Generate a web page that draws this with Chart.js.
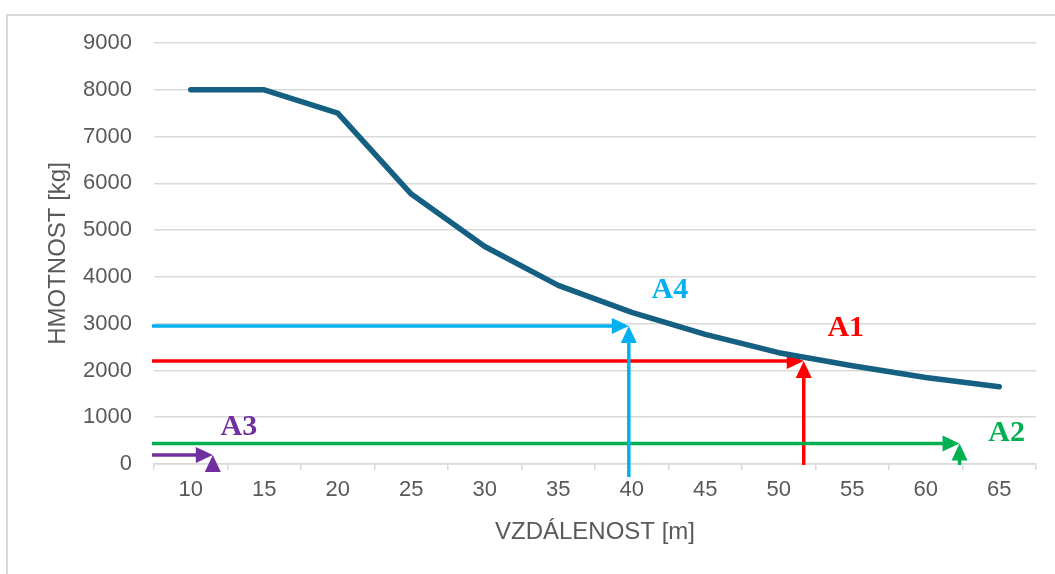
<!DOCTYPE html>
<html>
<head>
<meta charset="utf-8">
<script src="https://cdn.jsdelivr.net/npm/chart.js@4.4.1/dist/chart.umd.min.js"></script>
<style>
html,body{margin:0;padding:0;background:#ffffff;}
#wrap{position:relative;width:1055px;height:574px;}
</style>
</head>
<body>
<div id="wrap"><canvas id="c" width="1055" height="574"></canvas></div>
<script>
// ---- data ----
const distances = [10, 15, 20, 25, 30, 35, 40, 45, 50, 55, 60, 65];
const masses    = [8000, 8000, 7500, 5770, 4650, 3820, 3240, 2770, 2380, 2100, 1850, 1650];
const xTicks = [10, 15, 20, 25, 30, 35, 40, 45, 50, 55, 60, 65];
const yTicks = [0, 1000, 2000, 3000, 4000, 5000, 6000, 7000, 8000, 9000];

// reading arrows: name, distance at tip, mass at tip, mass where vertical arrow starts
const arrowNames   = ['A1', 'A2', 'A3', 'A4'];
const arrowDist    = [51.7, 62.3, 11.5, 39.8];
const arrowMass    = [2200, 440, 190, 2950];
const arrowFromMass= [-20, -20, -170, -280];

// ---- styles ----
const arrowColors = ['#FF0000', '#00B050', '#7030A0', '#00B0F0'];
const labelOffsets = [[42, -25], [47, -2], [26, -20], [41, -28]];
const textColor = '#595959';
const gridColor = '#D9D9D9';
const tickFont = {family: '"Liberation Sans", Arial, sans-serif', size: 22};
const titleFont = {family: '"Liberation Sans", Arial, sans-serif', size: 24};

const points = distances.map((d, i) => ({x: d, y: masses[i]}));

function drawArrow(ctx, x1, y1, x2, y2, color) {
  const headLen = 17, headHalf = 8;
  const ang = Math.atan2(y2 - y1, x2 - x1);
  const bx = x2 - headLen * Math.cos(ang), by = y2 - headLen * Math.sin(ang);
  ctx.save();
  ctx.strokeStyle = color;
  ctx.fillStyle = color;
  ctx.lineWidth = 3.5;
  ctx.lineCap = 'butt';
  ctx.beginPath();
  ctx.moveTo(x1, y1);
  ctx.lineTo(bx + 1 * Math.cos(ang), by + 1 * Math.sin(ang));
  ctx.stroke();
  ctx.beginPath();
  ctx.moveTo(x2, y2);
  ctx.lineTo(bx - headHalf * Math.sin(ang), by + headHalf * Math.cos(ang));
  ctx.lineTo(bx + headHalf * Math.sin(ang), by - headHalf * Math.cos(ang));
  ctx.closePath();
  ctx.fill();
  ctx.restore();
}

const borderPlugin = {
  id: 'outerBorder',
  beforeDraw(chart) {
    const ctx = chart.ctx;
    ctx.save();
    ctx.strokeStyle = gridColor;
    ctx.lineWidth = 2;
    ctx.strokeRect(7, 15, 1200, 800);
    ctx.restore();
  }
};

const arrowPlugin = {
  id: 'readingArrows',
  beforeDatasetsDraw(chart) {
    const ctx = chart.ctx;
    const xs = chart.scales.x, ys = chart.scales.y;
    const left = xs.getPixelForValue(xs.min) - 2;
    arrowNames.forEach((name, i) => {
      const px = xs.getPixelForValue(arrowDist[i]);
      const py = ys.getPixelForValue(arrowMass[i]);
      const pb = ys.getPixelForValue(arrowFromMass[i]);
      drawArrow(ctx, left, py, px, py, arrowColors[i]);
      drawArrow(ctx, px, pb, px, py, arrowColors[i]);
    });
  },
  afterDatasetsDraw(chart) {
    const ctx = chart.ctx;
    const xs = chart.scales.x, ys = chart.scales.y;
    ctx.save();
    ctx.font = 'bold 30px "Liberation Serif", "Times New Roman", serif';
    ctx.textAlign = 'center';
    ctx.textBaseline = 'alphabetic';
    arrowNames.forEach((name, i) => {
      const px = xs.getPixelForValue(arrowDist[i]);
      const py = ys.getPixelForValue(arrowMass[i]);
      ctx.fillStyle = arrowColors[i];
      ctx.fillText(name, px + labelOffsets[i][0], py + labelOffsets[i][1]);
    });
    ctx.restore();
  }
};

new Chart(document.getElementById('c'), {
  type: 'line',
  data: {
    datasets: [{
      data: points,
      borderColor: '#156082',
      borderWidth: 5.5,
      borderCapStyle: 'round',
      borderJoinStyle: 'round',
      pointRadius: 0,
      tension: 0,
      fill: false
    }]
  },
  options: {
    responsive: false,
    animation: false,
    devicePixelRatio: 1,
    layout: {padding: {left: 0, right: 19, top: 43, bottom: 0}},
    plugins: {legend: {display: false}, tooltip: {enabled: false}},
    scales: {
      x: {
        type: 'linear',
        min: xTicks[0] - 2.5,
        max: xTicks[xTicks.length - 1] + 2.5,
        afterBuildTicks(s) {
          const t = [{value: xTicks[0] - 2.5}];
          xTicks.forEach(v => { t.push({value: v}); t.push({value: v + 2.5}); });
          s.ticks = t;
        },
        afterFit(s) { s.height = 110; },
        ticks: {
          autoSkip: false, maxRotation: 0, minRotation: 0,
          callback: v => xTicks.includes(v) ? String(v) : '',
          font: tickFont, color: textColor, padding: 7
        },
        grid: {
          drawOnChartArea: false, drawTicks: true, tickLength: 6,
          tickColor: c => (c.tick && xTicks.includes(c.tick.value)) ? 'rgba(0,0,0,0)' : gridColor,
          lineWidth: 1.5
        },
        border: {display: true, color: gridColor, width: 1.5},
        title: {display: true, text: 'VZDÁLENOST [m]', font: titleFont, color: textColor, padding: {top: 0, bottom: 27}}
      },
      y: {
        min: yTicks[0],
        max: yTicks[yTicks.length - 1],
        afterBuildTicks(s) { s.ticks = yTicks.map(v => ({value: v})); },
        afterFit(s) { s.width = 154; },
        ticks: {font: tickFont, color: textColor, padding: 22, callback: v => String(v)},
        grid: {color: gridColor, lineWidth: 1.5, drawTicks: false},
        border: {display: false},
        title: {display: true, text: 'HMOTNOST [kg]', font: titleFont, color: textColor, padding: {top: 44, bottom: 0}}
      }
    }
  },
  plugins: [borderPlugin, arrowPlugin]
});
</script>
</body>
</html>
